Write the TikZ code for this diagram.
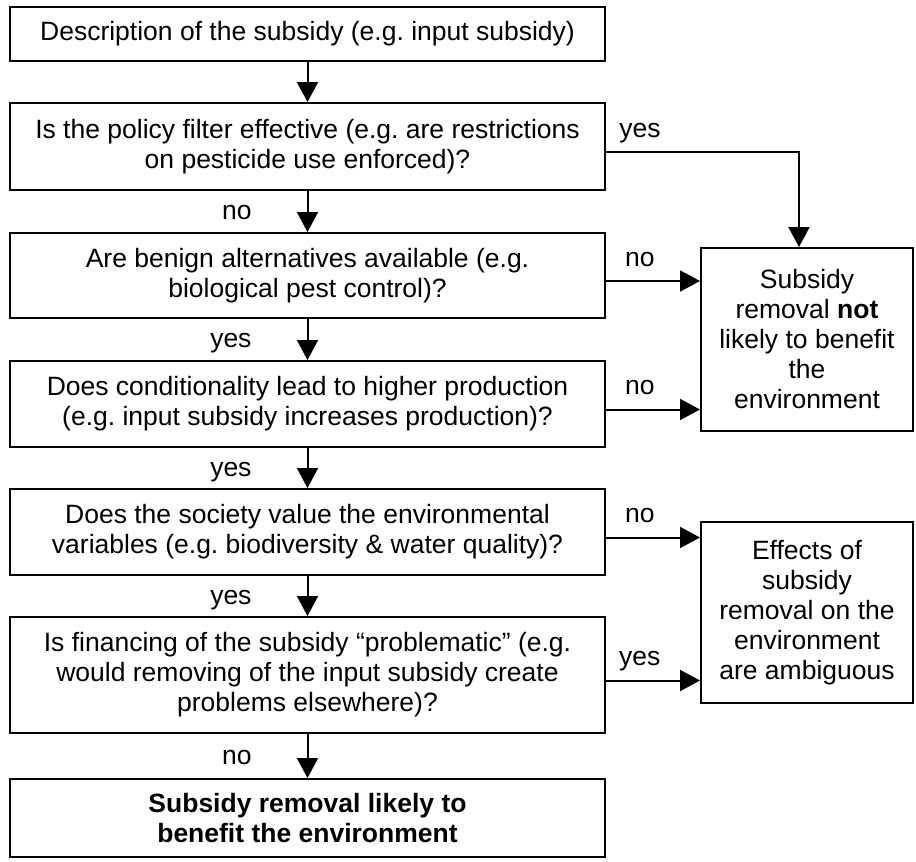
\documentclass[tikz,border=0pt]{standalone}
\usepackage{fontspec}
\setmainfont{Liberation Sans}
\usetikzlibrary{arrows.meta,positioning}
\frenchspacing

\begin{document}
\begin{tikzpicture}
        [x=1pt, y=-1pt,
        >={Triangle[length=20pt, width=21pt]},
        every node/.style={font=\fontsize{26.5}{30}\selectfont},
        question/.style={draw, line width=2pt, align=center, minimum width=595pt, inner sep=0pt},
        outcome/.style={draw, line width=2pt, align=center, minimum width=212pt, inner sep=0pt},
        flow/.style={->, line width=2pt},
        down answer/.style={inner sep=0pt, anchor=base east, xshift=-55pt, yshift=-8pt},
        side answer/.style={inner sep=0pt, anchor=base, yshift=15pt}]

        \useasboundingbox (0,0) rectangle (916,862);

        % decision column
        \node[question, minimum height=54pt] (describe) at (307.5,34) {Description of the subsidy (e.g. input subsidy)};
        \node[question, minimum height=87pt] (filter) at (307.5,146.5) {Is the policy filter effective (e.g. are restrictions\\on pesticide use enforced)?};
        \node[question, minimum height=85pt] (benign) at (307.5,275.5) {Are benign alternatives available (e.g.\\biological pest control)?};
        \node[question, minimum height=86pt] (production) at (307.5,404) {Does conditionality lead to higher production\\(e.g. input subsidy increases production)?};
        \node[question, minimum height=86pt] (value) at (307.5,532) {Does the society value the environmental\\variables (e.g. biodiversity \& water quality)?};
        \node[question, minimum height=116pt] (financing) at (307.5,675) {Is financing of the subsidy “problematic” (e.g.\\would removing of the input subsidy create\\problems elsewhere)?};
        \node[question, minimum height=78pt, font=\fontsize{26.5}{30}\selectfont\bfseries] (benefit) at (307.5,818) {Subsidy removal likely to\\benefit the environment};

        % outcomes
        \node[outcome, minimum height=183pt] (notlikely) at (807,339.5) {Subsidy\\removal \textbf{not}\\likely to benefit\\the\\environment};
        \node[outcome, minimum height=181pt] (ambiguous) at (807,612.5) {Effects of\\subsidy\\removal on the\\environment\\are ambiguous};

        \draw[flow] (describe) -- (filter);
        \draw[flow] (filter) -- node[down answer] {no} (benign);
        \draw[flow] (benign) -- node[down answer] {yes} (production);
        \draw[flow] (production) -- node[down answer] {yes} (value);
        \draw[flow] (value) -- node[down answer] {yes} (financing);
        \draw[flow] (financing) -- node[down answer] {no} (benefit);

        \draw[flow] ([yshift=-5.5pt]filter.east) -| node[side answer, pos=.088] {yes} ([xshift=-8pt]notlikely.north);
        \draw[flow] ([yshift=-5.5pt]benign.east) -- node[side answer, pos=.36] {no} ([yshift=-5.5pt]benign.east -| notlikely.west);
        \draw[flow] ([yshift=-5.5pt]production.east) -- node[side answer, pos=.36] {no} ([yshift=-5.5pt]production.east -| notlikely.west);
        \draw[flow] ([yshift=-5.5pt]value.east) -- node[side answer, pos=.36] {no} ([yshift=-5.5pt]value.east -| ambiguous.west);
        \draw[flow] ([yshift=-5.5pt]financing.east) -- node[side answer, pos=.36] {yes} ([yshift=-5.5pt]financing.east -| ambiguous.west);
\end{tikzpicture}
\end{document}
